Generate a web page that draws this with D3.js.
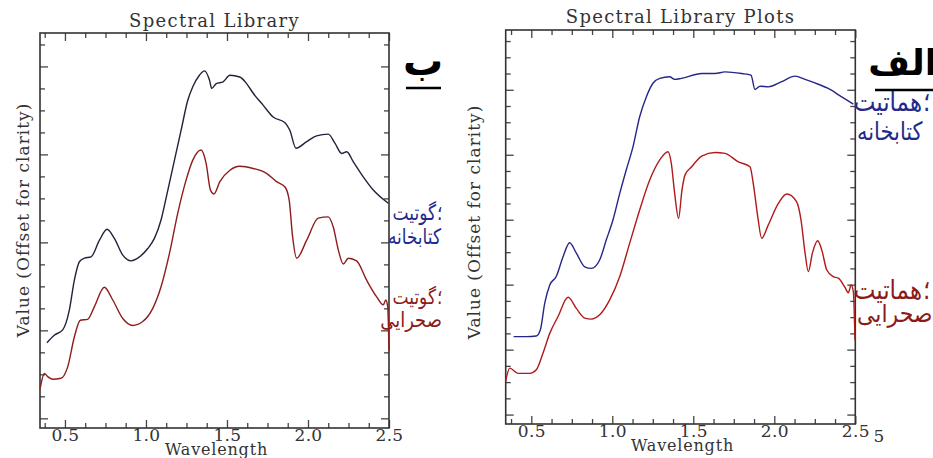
<!DOCTYPE html>
<html>
<head>
<meta charset="utf-8">
<script src="https://cdn.jsdelivr.net/npm/d3@7"></script>
<style>
  body { margin: 0; background: #fff; }
  svg { display: block; }
  .tick text { font-family: "DejaVu Serif", serif; font-size: 17px; fill: #333; letter-spacing: 0.3px; }
  .ttl { font-family: "DejaVu Serif", serif; fill: #333; }
  .fa { font-family: "DejaVu Sans", sans-serif; }
</style>
</head>
<body>
<div id="chart"></div>
<script>
// wavelength (um) / offset value pairs
const goethiteLibrary = [
  [0.389,0.172],[0.434,0.189],[0.486,0.201],[0.527,0.246],[0.558,0.314],[0.589,0.356],
  [0.620,0.364],[0.661,0.367],[0.713,0.405],[0.760,0.430],[0.805,0.409],[0.857,0.371],
  [0.908,0.358],[0.960,0.367],[1.011,0.386],[1.052,0.409],[1.093,0.451],[1.135,0.519],
  [1.176,0.587],[1.217,0.655],[1.258,0.723],[1.289,0.754],[1.330,0.780],[1.361,0.790],
  [1.392,0.769],[1.406,0.750],[1.434,0.761],[1.476,0.765],[1.518,0.780],[1.579,0.776],
  [1.621,0.761],[1.662,0.739],[1.723,0.712],[1.785,0.685],[1.858,0.672],[1.888,0.655],
  [1.926,0.614],[1.992,0.629],[2.053,0.642],[2.125,0.646],[2.167,0.625],[2.208,0.602],
  [2.239,0.606],[2.280,0.583],[2.341,0.549],[2.403,0.519],[2.496,0.489]
];
const goethiteDesert = [
  [0.347,0.068],[0.373,0.102],[0.393,0.095],[0.424,0.089],[0.475,0.091],[0.517,0.117],
  [0.558,0.185],[0.595,0.223],[0.640,0.225],[0.682,0.254],[0.743,0.298],[0.795,0.269],
  [0.857,0.227],[0.918,0.211],[0.980,0.220],[1.042,0.250],[1.093,0.299],[1.145,0.375],
  [1.196,0.466],[1.248,0.542],[1.289,0.587],[1.340,0.610],[1.371,0.580],[1.398,0.519],
  [1.419,0.510],[1.456,0.538],[1.518,0.564],[1.579,0.573],[1.662,0.568],[1.744,0.557],
  [1.806,0.538],[1.858,0.526],[1.884,0.496],[1.905,0.413],[1.930,0.364],[1.992,0.405],
  [2.063,0.455],[2.125,0.458],[2.156,0.435],[2.187,0.383],[2.218,0.351],[2.249,0.364],
  [2.300,0.358],[2.362,0.314],[2.424,0.276],[2.465,0.258],[2.480,0.269],[2.492,0.254],
  [2.500,0.155]
];
const hematiteLibrary = [
  [0.391,0.240],[0.469,0.240],[0.531,0.242],[0.556,0.261],[0.583,0.343],[0.614,0.399],
  [0.654,0.425],[0.696,0.486],[0.737,0.529],[0.778,0.497],[0.830,0.455],[0.870,0.450],
  [0.922,0.476],[0.963,0.538],[1.004,0.599],[1.046,0.681],[1.086,0.753],[1.128,0.825],
  [1.169,0.917],[1.210,0.978],[1.251,1.020],[1.293,1.035],[1.354,1.040],[1.385,1.032],
  [1.426,1.035],[1.552,1.050],[1.634,1.050],[1.696,1.055],[1.799,1.050],[1.856,1.045],
  [1.881,1.001],[1.912,1.011],[1.963,1.009],[2.046,1.025],[2.128,1.042],[2.190,1.032],
  [2.272,1.017],[2.333,1.004],[2.416,0.978],[2.488,0.956]
];
const hematiteDesert = [
  [0.342,0.103],[0.367,0.143],[0.418,0.127],[0.490,0.127],[0.531,0.138],[0.572,0.189],
  [0.614,0.250],[0.665,0.302],[0.727,0.361],[0.778,0.327],[0.830,0.297],[0.870,0.294],
  [0.922,0.307],[0.984,0.353],[1.046,0.425],[1.107,0.527],[1.169,0.630],[1.231,0.722],
  [1.293,0.784],[1.344,0.809],[1.364,0.774],[1.385,0.681],[1.409,0.604],[1.430,0.691],
  [1.449,0.738],[1.490,0.763],[1.552,0.796],[1.634,0.807],[1.696,0.804],[1.778,0.778],
  [1.850,0.763],[1.870,0.712],[1.898,0.609],[1.922,0.543],[1.963,0.584],[2.025,0.650],
  [2.077,0.679],[2.138,0.655],[2.165,0.599],[2.190,0.497],[2.210,0.440],[2.235,0.497],
  [2.268,0.535],[2.293,0.507],[2.324,0.445],[2.364,0.425],[2.395,0.420],[2.436,0.392],
  [2.457,0.375],[2.474,0.399],[2.488,0.378],[2.498,0.230]
];
const xMajorTicks = [0.5, 1.0, 1.5, 2.0, 2.5];
const xMinorTicks = [0.375, 0.625, 0.75, 0.875, 1.125, 1.25, 1.375, 1.625, 1.75, 1.875, 2.125, 2.25, 2.375];
const yMajorTicks = [0, 0.2, 0.4, 0.6, 0.8, 1.0];
const yMinorTicks = [0.05,0.1,0.15,0.25,0.3,0.35,0.45,0.5,0.55,0.65,0.7,0.75,0.85,0.9,0.95,1.05,1.1,1.15];

const width = 933, height = 458;
const svg = d3.select('#chart').append('svg').attr('width', width).attr('height', height);

const drawPanel = (p) => {
  const x = d3.scaleLinear().domain(p.xDomain).range([p.left, p.right]);
  const y = d3.scaleLinear().domain(p.yDomain).range([p.bottom, p.top]);
  const g = svg.append('g');
  const yMaj = yMajorTicks.filter(v => v <= p.yDomain[1]);
  const yMin = yMinorTicks.filter(v => v <= p.yDomain[1]);

  const addAxis = (axis, tx, ty, labels) => {
    const a = g.append('g').attr('transform', `translate(${tx},${ty})`).call(axis);
    a.select('.domain').remove();
    a.selectAll('line').attr('stroke', '#444').attr('stroke-width', 1.3);
    if (!labels) a.selectAll('text').remove();
    return a;
  };
  // bottom axis with labels, top axis mirrored
  addAxis(d3.axisBottom(x).tickValues(xMajorTicks).tickSize(-8).tickPadding(1).tickFormat(d3.format('.1f')), 0, p.bottom, true);
  addAxis(d3.axisBottom(x).tickValues(xMinorTicks).tickSize(-5), 0, p.bottom, false);
  addAxis(d3.axisTop(x).tickValues(xMajorTicks).tickSize(-8), 0, p.top, false);
  addAxis(d3.axisTop(x).tickValues(xMinorTicks).tickSize(-5), 0, p.top, false);
  // y ticks on both sides, no labels
  addAxis(d3.axisLeft(y).tickValues(yMaj).tickSize(-8), p.left, 0, false);
  addAxis(d3.axisLeft(y).tickValues(yMin).tickSize(-5), p.left, 0, false);
  addAxis(d3.axisRight(y).tickValues(yMaj).tickSize(-8), p.right, 0, false);
  addAxis(d3.axisRight(y).tickValues(yMin).tickSize(-5), p.right, 0, false);

  g.append('rect')
    .attr('x', p.left).attr('y', p.top)
    .attr('width', p.right - p.left).attr('height', p.bottom - p.top)
    .attr('fill', 'none').attr('stroke', '#333').attr('stroke-width', 1.6);

  const line = d3.line().x(d => x(d[0])).y(d => y(d[1])).curve(d3.curveMonotoneX);
  p.series.forEach(s => {
    g.append('path').datum(s.data)
      .attr('d', line)
      .attr('fill', 'none')
      .attr('stroke', s.color)
      .attr('stroke-width', 1.4);
  });

  g.append('text').attr('class', 'ttl')
    .attr('x', (p.left + p.right) / 2).attr('y', p.titleY)
    .attr('text-anchor', 'middle').attr('font-size', 18).attr('letter-spacing', 1.3)
    .text(p.title);
  g.append('text').attr('class', 'ttl')
    .attr('x', (p.left + p.right) / 2 + 2).attr('y', p.xLabelY)
    .attr('text-anchor', 'middle').attr('font-size', 16).attr('letter-spacing', 0.8)
    .text('Wavelength');
  g.append('text').attr('class', 'ttl')
    .attr('transform', `translate(${p.yLabelX},${p.yLabelY}) rotate(-90)`)
    .attr('text-anchor', 'middle').attr('font-size', 17).attr('letter-spacing', 1)
    .text('Value (Offset for clarity)');
};

drawPanel({
  left: 40, right: 389, top: 33, bottom: 428,
  xDomain: [0.346, 2.5], yDomain: [-0.022, 0.876],
  title: 'Spectral Library', titleY: 27, xLabelY: 455,
  yLabelX: 29, yLabelY: 220,
  series: [
    {data: goethiteLibrary, color: '#22223a'},
    {data: goethiteDesert, color: '#8e1c1c'}
  ]
});

drawPanel({
  left: 505.7, right: 855.3, top: 30, bottom: 424,
  xDomain: [0.342, 2.5], yDomain: [-0.029, 1.184],
  title: 'Spectral Library Plots', titleY: 23, xLabelY: 451,
  yLabelX: 480, yLabelY: 222,
  series: [
    {data: hematiteLibrary, color: '#26268a'},
    {data: hematiteDesert, color: '#b01a1a'}
  ]
});

// panel letters and legend labels; the semicolon sits at the right, as in the source
const blue = '#1f2a8c', red = '#8b1a1a';
const labels = [
  {t: 'ب', x: 423, y: 75, size: 40, sy: 1, bold: true, color: '#000', anchor: 'middle'},
  {t: 'الف', x: 937, y: 75, size: 36, sy: 1, bold: true, color: '#000', anchor: 'end'},
  {t: 'گوتیت', x: 436, y: 220, size: 17, sy: 1.25, color: blue, anchor: 'end', semi: true},
  {t: 'کتابخانه', x: 441, y: 244, size: 17, sy: 1.25, color: blue, anchor: 'end'},
  {t: 'گوتیت', x: 436, y: 304, size: 17, sy: 1.2, color: red, anchor: 'end', semi: true},
  {t: 'صحرایی', x: 442, y: 327, size: 18, sy: 1.15, color: red, anchor: 'end'},
  {t: 'هماتیت', x: 922, y: 111, size: 23, sy: 1.15, color: blue, anchor: 'end', semi: true},
  {t: 'کتابخانه', x: 857, y: 140, size: 21, sy: 1.2, color: blue, anchor: 'start'},
  {t: 'هماتیت', x: 922, y: 299, size: 23, sy: 1.15, color: red, anchor: 'end', semi: true},
  {t: 'صحرایی', x: 857, y: 322, size: 22, sy: 1.1, color: red, anchor: 'start'}
];
labels.forEach(d => {
  const lg = svg.append('g').attr('transform', `translate(${d.x},${d.y}) scale(1,${d.sy})`);
  lg.append('text')
    .attr('class', 'fa')
    .attr('text-anchor', d.anchor)
    .attr('font-size', d.size)
    .attr('font-weight', d.bold ? 'bold' : 'normal')
    .attr('fill', d.color)
    .text(d.t);
  if (d.semi) {
    lg.append('text')
      .attr('class', 'fa')
      .attr('x', 1)
      .attr('font-size', d.size)
      .attr('fill', d.color)
      .text('؛');
  }
});

svg.append('line').attr('x1', 406).attr('x2', 441).attr('y1', 88).attr('y2', 88)
  .attr('stroke', '#000').attr('stroke-width', 2.5);
svg.append('line').attr('x1', 875).attr('x2', 933).attr('y1', 90).attr('y2', 90)
  .attr('stroke', '#000').attr('stroke-width', 2.5);

svg.append('text').attr('class', 'ttl').attr('x', 879).attr('y', 442)
  .attr('text-anchor', 'middle').attr('font-size', 17).text('5');
</script>
</body>
</html>
